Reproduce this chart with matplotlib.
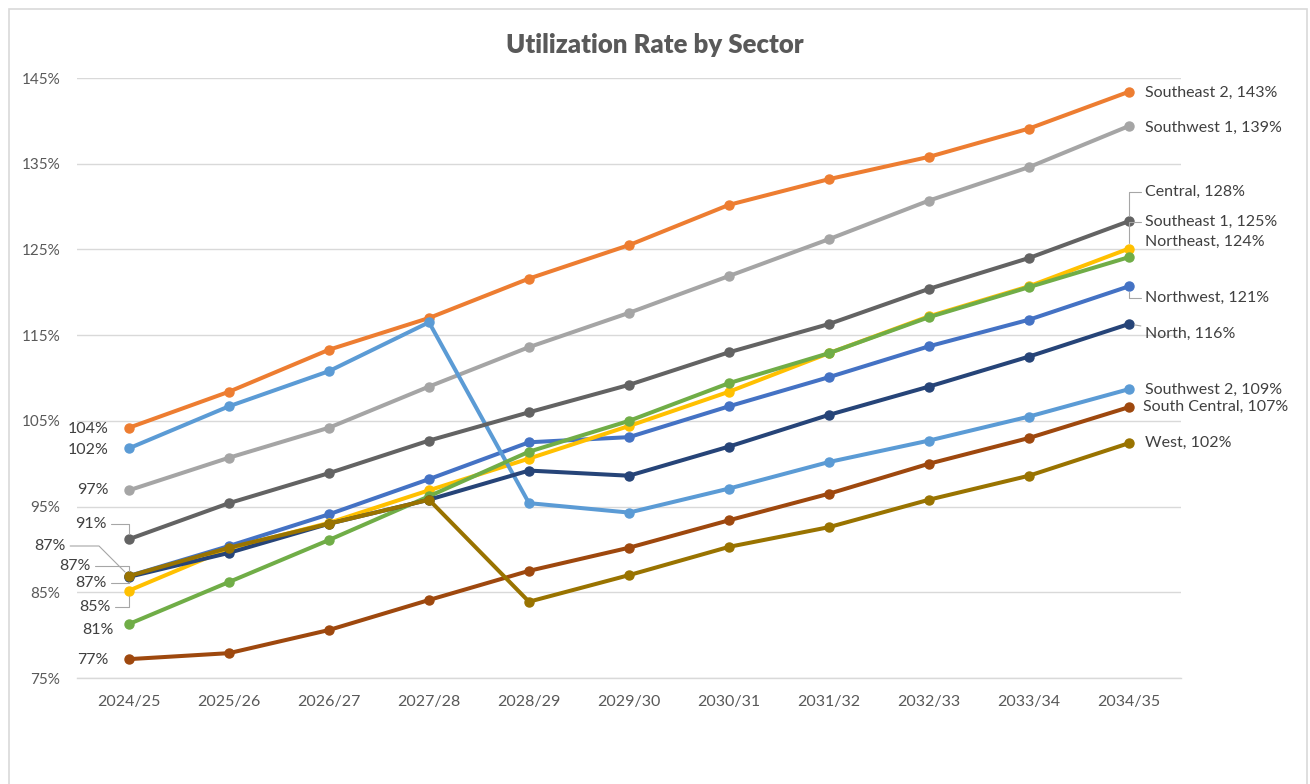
import numpy as np
import matplotlib.pyplot as plt
import matplotlib.patches as patches

plt.rcParams['font.family'] = ['Lato', 'DejaVu Sans']

# ---------------------------------------------------------------------------
# Data (utilization, %)
# ---------------------------------------------------------------------------
years = ["2024/25", "2025/26", "2026/27", "2027/28", "2028/29", "2029/30",
         "2030/31", "2031/32", "2032/33", "2033/34", "2034/35"]

northwest     = [86.9, 90.4, 94.1, 98.2, 102.5, 103.1, 106.7, 110.1, 113.7, 116.8, 120.7]
southeast_2   = [104.2, 108.4, 113.3, 117.0, 121.6, 125.5, 130.2, 133.2, 135.8, 139.1, 143.4]
southwest_1   = [96.9, 100.7, 104.2, 109.0, 113.6, 117.6, 121.9, 126.2, 130.7, 134.6, 139.4]
southeast_1   = [85.2, 90.1, 93.1, 96.9, 100.6, 104.4, 108.4, 112.9, 117.2, 120.7, 125.1]
southwest_2   = [101.8, 106.7, 110.8, 116.5, 95.4, 94.3, 97.1, 100.2, 102.7, 105.5, 108.7]
northeast     = [81.3, 86.2, 91.1, 96.2, 101.4, 105.0, 109.4, 112.9, 117.1, 120.6, 124.1]
north         = [86.8, 89.6, 93.0, 95.8, 99.2, 98.6, 102.0, 105.7, 109.0, 112.5, 116.3]
south_central = [77.2, 77.9, 80.6, 84.1, 87.5, 90.2, 93.4, 96.5, 100.0, 103.0, 106.6]
central       = [91.2, 95.4, 98.9, 102.7, 106.0, 109.2, 113.0, 116.3, 120.4, 124.0, 128.3]
west          = [86.9, 90.2, 93.0, 95.8, 83.9, 87.0, 90.3, 92.6, 95.8, 98.6, 102.4]

# name, values, colour, left label offset (px), right label offset (px), leader styles
series = [
    ("Northwest",     northwest,     "#4472C4", (-63, 30), (16, -12), "angle,angleA=0,angleB=135", "angle,angleA=0,angleB=90"),
    ("Southeast 2",   southeast_2,   "#ED7D31", (-20, -1), (16, -1), None, None),
    ("Southwest 1",   southwest_1,   "#A5A5A5", (-20, 0),  (16, -2), None, None),
    ("Southeast 1",   southeast_1,   "#FFC000", (-18, -16), (16, 27), "angle,angleA=0,angleB=90", "angle,angleA=0,angleB=90"),
    ("Southwest 2",   southwest_2,   "#5B9BD5", (-20, -2), (16, -1), None, None),
    ("Northeast",     northeast,     "#70AD47", (-15, -6), (16, 15), None, None),
    ("North",         north,         "#264478", (-38, 11), (16, -10), "angle,angleA=0,angleB=90", "arc3,rad=0"),
    ("South Central", south_central, "#9E480E", (-20, -1), (14, 0), None, None),
    ("Central",       central,       "#636363", (-22, 15), (16, 29), "angle,angleA=0,angleB=90", "angle,angleA=0,angleB=90"),
    ("West",          west,          "#997300", (-22, -7), (16, 0), "angle,angleA=0,angleB=90", None),
]

TXT = "#595959"
LBL = "#404040"
GRID = "#D9D9D9"
LEADER = "#A6A6A6"

fig = plt.figure(figsize=(13.1, 7.84), dpi=100, facecolor="white")
ax = fig.add_axes([77 / 1310, 106 / 784, 1104 / 1310, 600 / 784])

# chart frame
fig.patches.append(patches.Rectangle((9 / 1310, -0.05), 1298 / 1310, 1.05 - 9 / 784,
                                     transform=fig.transFigure, fill=False,
                                     edgecolor="#D9D9D9", lw=1.2))

x = np.arange(len(years))
for name, vals, col, loff, roff, lcs, rcs in series:
    ax.plot(x, vals, color=col, lw=2.9, marker="o", ms=6.5, solid_capstyle="round", zorder=3)

    ap = None
    if lcs:
        ap = dict(arrowstyle="-", color=LEADER, lw=0.8, connectionstyle=lcs,
                  shrinkA=1, shrinkB=4)
    ax.annotate(f"{round(vals[0]):.0f}%", xy=(x[0], vals[0]), xytext=loff,
                textcoords="offset pixels", ha="right", va="center",
                fontsize=11.5, color=LBL, arrowprops=ap, zorder=4)

    ap = None
    if rcs:
        ap = dict(arrowstyle="-", color=LEADER, lw=0.8, connectionstyle=rcs,
                  shrinkA=1, shrinkB=4)
    ax.annotate(f"{name}, {round(vals[-1]):.0f}%", xy=(x[-1], vals[-1]), xytext=roff,
                textcoords="offset pixels", ha="left", va="center",
                fontsize=11.5, color=LBL, arrowprops=ap, zorder=4,
                annotation_clip=False)

ax.set_xlim(-0.52, len(years) - 0.48)
ax.set_ylim(75, 145)
ax.set_yticks(np.arange(75, 146, 10))
ax.set_yticklabels([f"{v}%" for v in range(75, 146, 10)])
ax.set_xticks(x)
ax.set_xticklabels(years)
ax.tick_params(axis="y", length=0, pad=12, labelsize=11, labelcolor=TXT)
ax.tick_params(axis="x", length=0, pad=12, labelsize=11.5, labelcolor=TXT)
ax.grid(axis="y", color=GRID, lw=1.0, zorder=0)
ax.set_axisbelow(True)
for s in ["top", "right", "left"]:
    ax.spines[s].set_visible(False)
ax.spines["bottom"].set_color(GRID)
ax.spines["bottom"].set_linewidth(1.0)

fig.text(0.5, 1 - 45 / 784, "Utilization Rate by Sector", ha="center", va="center",
         fontsize=18.5, fontweight="heavy", color=TXT)

fig.savefig("out.png", dpi=100, facecolor="white")
